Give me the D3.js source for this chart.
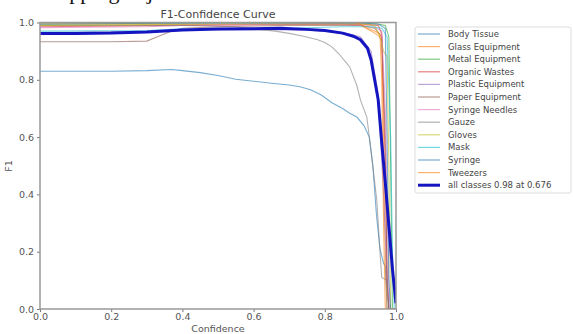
<!DOCTYPE html>
<html><head><meta charset="utf-8">
<script src="https://cdn.jsdelivr.net/npm/d3@7"></script>
<style>body{margin:0;background:#fff;overflow:hidden}svg{display:block}</style>
</head><body>
<svg id="c" width="573" height="334"></svg>
<script>
const classNames = ["Body Tissue","Glass Equipment","Metal Equipment","Organic Wastes","Plastic Equipment","Paper Equipment","Syringe Needles","Gauze","Gloves","Mask","Syringe","Tweezers"];
const classColors = ["#1f77b4","#ff7f0e","#2ca02c","#d62728","#9467bd","#8c564b","#e377c2","#7f7f7f","#bcbd22","#17becf","#1f77b4","#ff7f0e"];
const xTicks = [0,0.2,0.4,0.6,0.8,1.0];
const yTicks = [0,0.2,0.4,0.6,0.8,1.0];
const meanLabel = "all classes 0.98 at 0.676";

const bodyTissue = [[0,0.83],[0.1,0.83],[0.2,0.83],[0.3,0.832],[0.37,0.836],[0.4,0.832],[0.45,0.825],[0.5,0.815],[0.55,0.802],[0.6,0.795],[0.65,0.788],[0.7,0.782],[0.73,0.776],[0.76,0.765],[0.79,0.747],[0.82,0.72],[0.85,0.7],[0.87,0.683],[0.89,0.67],[0.91,0.64],[0.925,0.6],[0.935,0.5],[0.945,0.33],[0.955,0.21],[0.965,0.16],[0.97,0.15],[0.975,0],[1,0]];
const glassEquipment = [[0,0.99],[0.3,0.992],[0.6,0.995],[0.85,0.995],[0.9,0.99],[0.93,0.97],[0.95,0.955],[0.96,0.94],[0.965,0.6],[0.97,0.2],[0.975,0],[1,0]];
const metalEquipment = [[0,0.995],[0.5,0.998],[0.9,0.998],[0.95,0.995],[0.97,0.99],[0.98,0.95],[0.985,0.5],[0.99,0],[1,0]];
const organicWastes = [[0,0.985],[0.4,0.99],[0.9,0.995],[0.95,0.99],[0.96,0.96],[0.97,0.5],[0.975,0.1],[0.98,0],[1,0]];
const plasticEquipment = [[0,0.965],[0.3,0.968],[0.4,0.975],[0.6,0.975],[0.75,0.973],[0.85,0.965],[0.9,0.95],[0.93,0.9],[0.95,0.75],[0.965,0.4],[0.975,0.1],[0.98,0],[1,0]];
const paperEquipment = [[0,0.933],[0.1,0.933],[0.2,0.933],[0.3,0.935],[0.33,0.95],[0.37,0.97],[0.4,0.98],[0.5,0.985],[0.7,0.99],[0.9,0.99],[0.94,0.98],[0.96,0.95],[0.97,0.6],[0.975,0.1],[0.98,0],[1,0]];
const syringeNeedles = [[0,0.982],[0.3,0.985],[0.4,0.99],[0.8,0.995],[0.93,0.99],[0.96,0.97],[0.97,0.7],[0.98,0.05],[0.985,0],[1,0]];
const gauze = [[0,0.99],[0.4,0.99],[0.55,0.985],[0.62,0.975],[0.66,0.97],[0.7,0.962],[0.74,0.952],[0.78,0.94],[0.8,0.93],[0.82,0.915],[0.84,0.89],[0.86,0.86],[0.87,0.845],[0.89,0.78],[0.9,0.73],[0.918,0.67],[0.93,0.55],[0.946,0.38],[0.955,0.2],[0.96,0.11],[0.974,0.1],[0.98,0],[1,0]];
const gloves = [[0,0.99],[0.5,0.995],[0.9,0.995],[0.94,0.99],[0.955,0.95],[0.965,0.9],[0.975,0.88],[0.98,0.5],[0.985,0],[1,0]];
const mask = [[0,0.97],[0.3,0.972],[0.4,0.978],[0.7,0.98],[0.85,0.985],[0.93,0.985],[0.96,0.98],[0.975,0.95],[0.985,0.6],[0.99,0.2],[0.995,0],[1,0]];
const syringe = [[0,0.995],[0.5,0.998],[0.9,0.998],[0.95,0.995],[0.97,0.98],[0.975,0.6],[0.98,0.1],[0.985,0],[1,0]];
const tweezers = [[0,0.998],[0.5,1.0],[0.88,1.0],[0.9,0.995],[0.92,0.98],[0.94,0.97],[0.955,0.96],[0.96,0.8],[0.965,0.3],[0.97,0],[1,0]];
const allClasses = [[0,0.962],[0.1,0.962],[0.2,0.963],[0.3,0.967],[0.4,0.974],[0.5,0.977],[0.6,0.978],[0.676,0.98],[0.75,0.976],[0.8,0.972],[0.85,0.963],[0.88,0.952],[0.9,0.94],[0.92,0.91],[0.93,0.87],[0.94,0.8],[0.95,0.73],[0.96,0.58],[0.97,0.44],[0.98,0.29],[0.99,0.14],[1.0,0.02]];
const classSeries = [bodyTissue,glassEquipment,metalEquipment,organicWastes,plasticEquipment,paperEquipment,syringeNeedles,gauze,gloves,mask,syringe,tweezers];

const svg = d3.select("#c");
const L=40,R=396,T=22.5,B=309;
const x = d3.scaleLinear().domain([0,1]).range([L,R]);
const y = d3.scaleLinear().domain([0,1]).range([B,T]);

// heading text of the page above, cut by the top edge as in the reference
svg.append("text").attr("x",40).attr("y",-1).attr("font-family","Liberation Serif").attr("font-size",22).attr("fill","#111").text("Mapping objects");

svg.append("defs").append("clipPath").attr("id","pc").append("rect").attr("x",L).attr("y",T-1).attr("width",R-L).attr("height",B-T+1);

const line = d3.line().x(d=>x(d[0])).y(d=>y(d[1]));
const g = svg.append("g").attr("clip-path","url(#pc)");
classSeries.forEach((s,i)=>{
  g.append("path").attr("d",line(s)).attr("fill","none").attr("stroke",classColors[i]).attr("stroke-width",1.1).attr("stroke-opacity",0.6);
});
g.append("path").attr("d",line(allClasses)).attr("fill","none").attr("stroke","#1414c0").attr("stroke-width",3);

// axes
const ax = svg.append("g").attr("transform",`translate(0,${B})`).call(d3.axisBottom(x).tickValues(xTicks).tickFormat(d3.format(".1f")).tickSize(3));
const ay = svg.append("g").attr("transform",`translate(${L},0)`).call(d3.axisLeft(y).tickValues(yTicks).tickFormat(d3.format(".1f")).tickSize(3));
[ax,ay].forEach(a=>{
  a.select(".domain").remove();
  a.selectAll("line").attr("stroke","#777");
  a.selectAll("text").attr("font-family","DejaVu Sans").attr("font-size",9.5).attr("fill","#555");
});
ax.selectAll("text").attr("y",4).attr("dy","0.75em");
// frame
svg.append("rect").attr("x",L).attr("y",T).attr("width",R-L).attr("height",B-T).attr("fill","none").attr("stroke","#999").attr("stroke-width",1.5);

svg.append("text").attr("x",218).attr("y",18).attr("text-anchor","middle").attr("font-family","DejaVu Sans").attr("font-size",11).attr("fill","#444").text("F1-Confidence Curve");
svg.append("text").attr("x",218).attr("y",332).attr("text-anchor","middle").attr("font-family","DejaVu Sans").attr("font-size",9.5).attr("fill","#555").text("Confidence");
svg.append("text").attr("transform","translate(12,166) rotate(-90)").attr("text-anchor","middle").attr("font-family","DejaVu Sans").attr("font-size",9.5).attr("fill","#555").text("F1");

// legend
const lg = svg.append("g");
lg.append("rect").attr("x",415).attr("y",27).attr("width",156).attr("height",166).attr("rx",2).attr("fill","#fff").attr("stroke","#ddd");
const labels = classNames.concat([meanLabel]);
labels.forEach((t,i)=>{
  const yy = 34 + i*12.6;
  const isMean = i===labels.length-1;
  lg.append("line").attr("x1",418).attr("x2",440).attr("y1",yy).attr("y2",yy)
    .attr("stroke",isMean?"#1414c0":classColors[i]).attr("stroke-width",isMean?3:1.2).attr("stroke-opacity",isMean?1:0.6);
  lg.append("text").attr("x",448).attr("y",yy).attr("dy","0.35em").attr("font-family","DejaVu Sans").attr("font-size",8.5).attr("fill","#444").text(t);
});
</script>
</body></html>
